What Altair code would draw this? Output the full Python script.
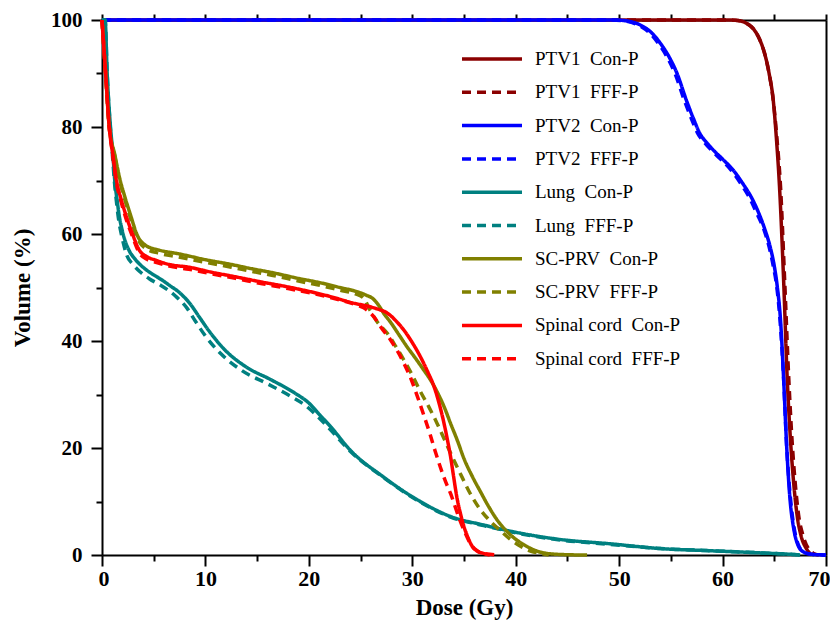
import altair as alt
import pandas as pd

# ---------------- data ----------------
structures = ["PTV1", "PTV2", "Lung", "SC-PRV", "Spinal cord"]
plans = ["Con-P", "FFF-P"]
structure_colors = ["#8B0000", "#0000FF", "#008080", "#808000", "#FF0000"]

ptv1_con_dose = [0, 60.5, 61.5, 62.3, 63.0, 63.6, 64.1, 64.5, 64.9, 65.2, 65.5, 65.9, 66.25, 66.55, 66.85, 67.2, 67.6, 68.1, 68.6]
ptv1_con_vol = [100, 100, 99.9, 99.4, 98.3, 96.3, 93.5, 90.0, 85.0, 78.0, 69.0, 51.5, 33.0, 22.0, 14.0, 7.5, 3.5, 1.2, 0.0]
ptv1_fff_dose = [0, 60.5, 61.5, 62.3, 63.0, 63.6, 64.1, 64.5, 64.9, 65.25, 65.6, 66.0, 66.4, 66.7, 67.0, 67.35, 67.8, 68.3, 68.8, 69.3]
ptv1_fff_vol = [100, 100, 99.9, 99.4, 98.3, 96.3, 93.5, 90.0, 85.0, 78.0, 69.0, 51.5, 33.0, 22.0, 14.0, 7.5, 3.5, 1.2, 0.3, 0.0]

ptv2_con_dose = [0, 49.5, 50.8, 52.3, 53.2, 54.0, 54.8, 55.6, 56.5, 57.2, 57.8, 58.5, 59.1, 60.0, 61.0, 62.0, 62.8, 63.5, 64.1, 64.6, 65.0, 65.3, 65.6, 65.9, 66.2, 66.5, 66.9, 67.3, 67.8, 68.5, 70.0]
ptv2_con_vol = [100, 100, 99.8, 98.8, 97.5, 95.6, 93.2, 90.0, 85.0, 81.5, 78.8, 77.0, 75.7, 74.0, 72.0, 69.3, 66.8, 63.9, 60.8, 57.6, 54.0, 50.0, 44.0, 33.0, 20.2, 10.9, 4.7, 1.8, 0.6, 0.15, 0.0]
ptv2_fff_dose = [0, 49.3, 50.6, 52.1, 53.0, 53.8, 54.6, 55.4, 56.3, 57.0, 57.6, 58.3, 58.9, 59.8, 60.8, 61.8, 62.6, 63.3, 64.0, 64.5, 64.9, 65.25, 65.55, 65.9, 66.2, 66.55, 66.95, 67.35, 67.85, 68.6, 70.0]
ptv2_fff_vol = [100, 100, 99.8, 98.8, 97.5, 95.6, 93.2, 90.0, 85.0, 81.5, 78.8, 77.0, 75.7, 74.0, 72.0, 69.3, 66.8, 63.9, 60.8, 57.6, 54.0, 50.0, 44.0, 33.0, 20.2, 10.9, 4.7, 1.8, 0.6, 0.15, 0.0]

lung_con_dose = [0, 0.3, 0.5, 0.82, 1.05, 1.24, 1.45, 1.65, 1.95, 2.6, 3.2, 3.9, 4.8, 5.8, 6.6, 7.4, 8.5, 9.4, 10.3, 11.9, 13.9, 16.4, 18.7, 20.0, 21.0, 22.1, 24.0, 27.2, 30.5, 33.7, 36.9, 40.4, 44.3, 49.1, 54.0, 58.8, 63.6, 66.8, 67.5]
lung_con_vol = [100, 100, 90, 80, 75, 69.8, 66.5, 63.6, 60.7, 57.0, 55.3, 53.9, 52.6, 51.4, 50.3, 49.2, 47.0, 44.5, 42.0, 38.3, 35.2, 32.7, 30.2, 28.4, 26.3, 24.0, 19.6, 14.6, 10.3, 7.2, 5.6, 4.1, 2.9, 2.1, 1.2, 0.8, 0.4, 0.1, 0.0]
lung_fff_dose = [0, 0.3, 0.5, 0.8, 1.0, 1.2, 1.4, 1.6, 1.9, 2.4, 3.0, 3.7, 4.6, 5.6, 6.4, 7.1, 8.2, 9.0, 9.9, 11.5, 13.5, 16.0, 18.3, 19.7, 20.8, 22.0, 24.0, 27.2, 30.5, 33.7, 36.9, 40.4, 44.3, 49.1, 54.0, 58.8, 63.6, 66.8, 67.5]
lung_fff_vol = [100, 100, 90, 80, 75, 69.8, 66.0, 62.8, 59.7, 56.0, 54.3, 52.9, 51.6, 50.5, 49.5, 48.4, 46.2, 43.8, 41.2, 37.6, 34.5, 32.0, 29.6, 27.9, 26.0, 23.6, 19.4, 14.5, 10.2, 7.1, 5.5, 4.0, 2.8, 2.0, 1.2, 0.8, 0.4, 0.1, 0.0]

scprv_con_dose = [0, 0.35, 0.7, 1.24, 1.7, 2.2, 2.75, 3.4, 4.2, 5.5, 7.4, 10.0, 12.5, 14.5, 16.4, 19.0, 21.3, 23.0, 24.5, 25.5, 26.2, 26.7, 27.3, 27.9, 28.7, 29.5, 30.3, 31.1, 31.8, 32.4, 33.1, 33.7, 34.4, 35.0, 35.8, 36.6, 37.4, 38.3, 39.2, 40.1, 41.0, 41.7, 43.0, 45.0, 46.9]
scprv_con_vol = [100, 90, 80, 74.8, 70.5, 67.0, 63.6, 59.8, 57.9, 57.0, 56.3, 55.2, 54.3, 53.5, 52.8, 51.7, 50.8, 50.0, 49.3, 48.6, 47.9, 46.8, 45.0, 43.5, 41.2, 38.9, 36.8, 34.6, 32.6, 30.5, 27.6, 24.6, 21.2, 18.0, 14.7, 11.8, 9.0, 6.3, 4.3, 2.8, 1.7, 1.0, 0.3, 0.05, 0.0]
scprv_fff_dose = [0, 0.35, 0.7, 1.24, 1.7, 2.2, 2.75, 3.4, 4.2, 5.5, 7.4, 10.0, 12.5, 14.5, 16.4, 19.0, 21.3, 23.0, 24.5, 25.3, 25.9, 26.6, 27.6, 28.4, 29.2, 30.0, 30.8, 31.6, 32.4, 33.2, 34.0, 34.8, 35.6, 36.5, 37.5, 38.5, 39.5, 40.5, 41.5, 42.4, 43.2]
scprv_fff_vol = [100, 90, 80, 74.5, 70.0, 66.5, 63.0, 59.3, 57.3, 56.4, 55.7, 54.7, 53.8, 53.0, 52.3, 51.2, 50.3, 49.5, 48.8, 48.0, 45.8, 43.6, 41.4, 39.0, 36.4, 33.6, 30.5, 27.7, 24.6, 21.2, 17.8, 14.6, 11.5, 8.7, 6.4, 4.6, 2.9, 1.6, 0.7, 0.3, 0.0]

cord_con_dose = [0, 0.35, 0.7, 1.05, 1.4, 1.85, 2.3, 2.95, 3.6, 4.3, 5.2, 6.5, 8.4, 10.5, 12.9, 15.5, 18.0, 21.9, 24.5, 25.5, 26.6, 27.6, 28.5, 29.2, 30.0, 30.8, 31.5, 32.1, 32.6, 33.0, 33.4, 33.7, 34.0, 34.3, 34.65, 35.0, 35.4, 35.8, 36.3, 36.9, 37.5]
cord_con_vol = [100, 90, 80, 74.8, 70.0, 66.5, 63.6, 60.0, 57.0, 55.8, 55.1, 54.3, 53.8, 52.9, 52.0, 51.0, 50.1, 48.4, 47.0, 46.6, 46.0, 45.2, 43.6, 42.0, 39.7, 37.0, 34.2, 31.5, 28.3, 25.2, 21.5, 18.4, 14.6, 10.9, 7.8, 5.3, 3.2, 1.6, 0.7, 0.3, 0.0]
cord_fff_dose = [0, 0.35, 0.7, 1.05, 1.4, 1.85, 2.3, 2.95, 3.6, 4.3, 5.2, 6.5, 8.4, 10.5, 12.9, 15.5, 18.0, 21.9, 24.5, 25.3, 26.3, 27.0, 27.9, 28.6, 29.2, 29.9, 30.5, 31.1, 31.7, 32.2, 32.7, 33.2, 33.7, 34.15, 34.6, 35.1, 35.6, 36.2, 36.9, 37.7, 38.5]
cord_fff_vol = [100, 90, 80, 74.5, 69.5, 66.0, 63.0, 59.5, 56.5, 55.3, 54.7, 54.0, 53.4, 52.6, 51.7, 50.7, 49.8, 48.2, 46.8, 46.2, 44.5, 42.5, 40.2, 38.0, 35.8, 32.8, 29.6, 26.2, 22.7, 19.5, 16.5, 13.8, 11.5, 9.0, 6.5, 4.2, 2.2, 0.9, 0.3, 0.1, 0.0]

x_major = [0, 10, 20, 30, 40, 50, 60, 70]
x_minor = [5, 15, 25, 35, 45, 55, 65]
x_top = [0, 5, 10, 15, 20, 25, 30, 35, 40, 45, 50, 55, 60, 65, 70]
y_major = [0, 20, 40, 60, 80, 100]
y_minor = [10, 30, 50, 70, 90]

# ---------------- build table ----------------
curves = [
    ("PTV1", "Con-P", ptv1_con_dose, ptv1_con_vol),
    ("PTV1", "FFF-P", ptv1_fff_dose, ptv1_fff_vol),
    ("PTV2", "Con-P", ptv2_con_dose, ptv2_con_vol),
    ("PTV2", "FFF-P", ptv2_fff_dose, ptv2_fff_vol),
    ("Lung", "Con-P", lung_con_dose, lung_con_vol),
    ("Lung", "FFF-P", lung_fff_dose, lung_fff_vol),
    ("SC-PRV", "Con-P", scprv_con_dose, scprv_con_vol),
    ("SC-PRV", "FFF-P", scprv_fff_dose, scprv_fff_vol),
    ("Spinal cord", "Con-P", cord_con_dose, cord_con_vol),
    ("Spinal cord", "FFF-P", cord_fff_dose, cord_fff_vol),
]

SEP = "\u2002"
rows = []
series_names, series_colors, series_dash = [], [], []
for s, p, d, v in curves:
    name = s + SEP + p
    series_names.append(name)
    series_colors.append(structure_colors[structures.index(s)])
    series_dash.append([1, 0] if p == plans[0] else [9, 6])
    for xi, yi in zip(d, v):
        rows.append({"series": name, "dose": xi, "vol": yi})
df = pd.DataFrame(rows)

FONT = "Liberation Serif"
xscale = alt.Scale(domain=[0, 70], nice=False, zero=False)
yscale = alt.Scale(domain=[0, 100], nice=False, zero=False)

legend = alt.Legend(
    title=None, orient="none", legendX=378, legendY=27, padding=0,
    symbolType="M-3,0H3", symbolSize=400, symbolStrokeWidth=3.5,
    labelFont=FONT, labelFontSize=19, labelColor="black", labelOffset=31,
    rowPadding=11.3, labelLimit=300,
)

axis_common = dict(domainColor="black", tickColor="black", domainWidth=2, tickWidth=2, grid=False)

lines = alt.Chart(df).mark_line(strokeWidth=3.5, interpolate="monotone", strokeCap="butt").encode(
    x=alt.X("dose:Q", scale=xscale, axis=alt.Axis(
        orient="bottom", values=x_major, tickSize=11, labelFont=FONT, labelFontWeight="bold",
        labelFontSize=22, labelColor="black", labelPadding=2, labelFlush=True, labelFlushOffset=4,
        title="Dose (Gy)", titleFont=FONT, titleFontSize=23, titleFontWeight="bold",
        titleColor="black", titlePadding=7, **axis_common)),
    y=alt.Y("vol:Q", scale=yscale, axis=alt.Axis(
        orient="left", values=y_major, tickSize=11, labelFont=FONT, labelFontWeight="bold",
        labelFontSize=21, labelColor="black", labelPadding=9, labelFlush=False,
        title="Volume (%)", titleFont=FONT, titleFontSize=23, titleFontWeight="bold",
        titleColor="black", titlePadding=16, **axis_common)),
    color=alt.Color("series:N", scale=alt.Scale(domain=series_names, range=series_colors), legend=legend),
    strokeDash=alt.StrokeDash("series:N", scale=alt.Scale(domain=series_names, range=series_dash), legend=legend),
)

minor = alt.Chart(df).mark_point(opacity=0, size=1).encode(
    x=alt.X("dose:Q", scale=xscale, axis=alt.Axis(
        orient="bottom", values=x_minor, tickSize=6, labels=False, domain=False, title=None, **axis_common)),
    y=alt.Y("vol:Q", scale=yscale, axis=alt.Axis(
        orient="left", values=y_minor, tickSize=6, labels=False, domain=False, title=None, **axis_common)),
)

frame = alt.Chart(df).mark_point(opacity=0, size=1).encode(
    x=alt.X("dose:Q", scale=xscale, axis=alt.Axis(
        orient="top", values=x_top, tickSize=6, labels=False, domain=True, title=None, **axis_common)),
    y=alt.Y("vol:Q", scale=yscale, axis=alt.Axis(
        orient="right", ticks=False, labels=False, domain=True, title=None, **axis_common)),
)

chart = alt.layer(lines, minor, frame).resolve_axis(x="independent", y="independent").properties(
    width=724, height=535,
    autosize=alt.AutoSizeParams(type="none"),
    padding={"left": 94, "top": 12, "right": 4, "bottom": 68},
    background="white",
).configure_view(stroke="transparent")

chart.save("out.html", embed_options={"renderer": "svg", "actions": False})
